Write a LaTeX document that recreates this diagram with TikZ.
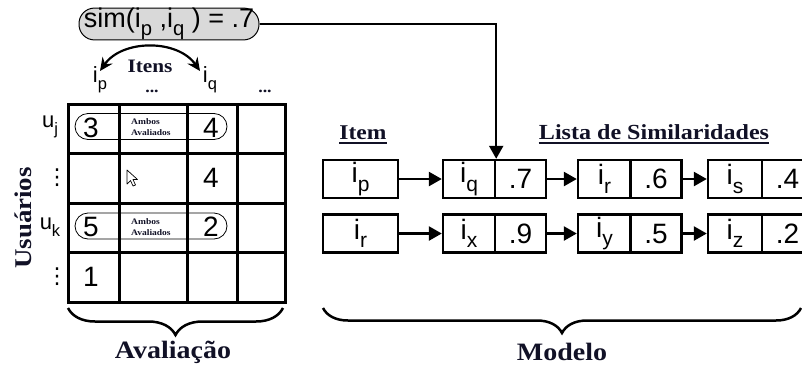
\documentclass[tikz,border=0pt]{standalone}
\usepackage{fontspec}
\usepackage{graphicx}
\setmainfont{Liberation Sans}
\newfontfamily\lblfont[FakeStretch=1.12]{Liberation Serif}
\newfontfamily\djvfont{DejaVu Sans}
\usetikzlibrary{arrows.meta,decorations.pathreplacing}
\definecolor{lblcol}{HTML}{111126}
\definecolor{pillgray}{HTML}{D9D9D9}
\newcommand\setfs[1]{\fontsize{#1}{#1}\selectfont}
\newcommand\isub[1]{\raisebox{-0.3em}{\scalebox{0.75}{#1}}}
\begin{document}
\begin{tikzpicture}[x=1pt,y=-1pt,
  lbl/.style={inner sep=0pt, text=lblcol, font=\lblfont\bfseries\setfs{#1}},
  dig/.style={inner sep=0pt, font=\setfs{28}},
  box/.style={draw, line width=2.4pt, minimum height=38pt, inner sep=0pt, font=\setfs{28}},
  pill/.style={draw, line width=0.8pt, minimum width=152pt, minimum height=26pt, rounded corners=13pt, inner sep=0pt},
  arr/.style={line width=2.5pt, -{Triangle[length=13pt,width=14pt]}},
  dbl/.style={line width=2.2pt, {Stealth[length=13pt,width=12pt]}-{Stealth[length=13pt,width=12pt]}},
  bracebig/.style={line width=2.5pt, decorate, decoration={brace, mirror, amplitude=#1}},
  gridline/.style={line width=3pt},
  vd/.style={inner sep=0pt, font=\djvfont\setfs{22}}
]
\useasboundingbox (0,0) rectangle (802,370);

% similarity bubble
\node[draw, line width=1pt, fill=pillgray, minimum width=180pt, minimum height=31pt,
      rounded corners=15.5pt, inner sep=0pt, font=\setfs{27}] (sim) at (169,24)
      {sim(i\isub{p} ,i\isub{q} ) = .7};

% header labels
\node[inner sep=0pt, font=\setfs{22}] (hp) at (100,80) {i\isub{p}};
\node[inner sep=0pt, font=\setfs{22}] (hq) at (210,80) {i\isub{q}};
\node[lbl=16, anchor=base] (hd1) at (152,92) {...};
\node[lbl=16, anchor=base] (hd2) at (265,92) {...};
\node[lbl=19] (itens) at (150,66) {Itens};
\coordinate (tp) at (100,71);
\coordinate (tq) at (200,71);
\draw[dbl] (tp) to[bend left=55] (tq);

% pills (under grid)
\node[pill] (pj) at (151,126.5) {};
\node[pill] (pk) at (151,226) {};

% grid
\draw[gridline] (68,104) rectangle (285,302);
\foreach \xx in {119,187,237} \draw[gridline] (\xx,104) -- (\xx,302);
\foreach \yy in {153.5,203,252.5} \draw[gridline] (68,\yy) -- (285,\yy);

% cell contents
\node[dig] (c11) at (91,127.5) {3};
\node[dig] (c13) at (211,127.5) {4};
\node[dig] (c23) at (211,177.5) {4};
\node[dig] (c31) at (91,227) {5};
\node[dig] (c33) at (211,227) {2};
\node[dig] (c41) at (91,276.5) {1};
\node[lbl=8.5, anchor=west, align=left, font=\lblfont\bfseries\fontsize{8.5}{11}\selectfont] (amb1) at (131,127.5) {Ambos\\Avaliados};
\node[lbl=8.5, anchor=west, align=left, font=\lblfont\bfseries\fontsize{8.5}{11}\selectfont] (amb2) at (131,227.5) {Ambos\\Avaliados};

% mouse pointer
\draw[line width=0.7pt, fill=white, line join=round]
  (127,170) -- (127,184) -- (130.5,180.5) -- (133,186) -- (135.5,185) -- (133,179.5) -- (137.5,179.5) -- cycle;

% row labels
\node[inner sep=0pt, font=\setfs{22}] (uj) at (50,127) {u\isub{j}};
\node[vd] (d1) at (57,178) {⋮};
\node[inner sep=0pt, font=\setfs{22}] (uk) at (50,227) {u\isub{k}};
\node[vd] (d2) at (57,277) {⋮};
\node[lbl=24, rotate=90] (usu) at (23,218) {Usuários};

% model
\node[lbl=21, anchor=base] (itemh) at (363,139) {Item};
\node[lbl=21.5, anchor=base] (listah) at (654,139) {Lista de Similaridades};
\draw[line width=1.5pt, lblcol] ([yshift=-4pt]itemh.base west) -- ([yshift=-4pt]itemh.base east);
\draw[line width=1.5pt, lblcol] ([yshift=-4pt]listah.base west) -- ([yshift=-4pt]listah.base east);

\node[box, minimum width=75pt] (a0) at (360.5,179) {i\isub{p}};
\node[box, minimum width=52pt] (a1) at (469,179) {i\isub{q}};
\node[box, minimum width=51pt] (a1v) at (520.5,179) {.7};
\node[box, minimum width=53pt] (a2) at (604.5,179) {i\isub{r}};
\node[box, minimum width=51pt] (a2v) at (656,179) {.6};
\node[box, minimum width=54pt] (a3) at (735,179) {i\isub{s}};
\node[box, minimum width=51pt] (a3v) at (787.5,179) {.4};

\node[box, minimum width=75pt] (b0) at (360.5,233.5) {i\isub{r}};
\node[box, minimum width=52pt] (b1) at (469,233.5) {i\isub{x}};
\node[box, minimum width=51pt] (b1v) at (520.5,233.5) {.9};
\node[box, minimum width=53pt] (b2) at (604.5,233.5) {i\isub{y}};
\node[box, minimum width=51pt] (b2v) at (656,233.5) {.5};
\node[box, minimum width=54pt] (b3) at (735,233.5) {i\isub{z}};
\node[box, minimum width=51pt] (b3v) at (787.5,233.5) {.2};

\draw[arr] (a0) -- (a1);
\draw[arr] (a1v) -- (a2);
\draw[arr] (a2v) -- (a3);
\draw[arr] (b0) -- (b1);
\draw[arr] (b1v) -- (b2);
\draw[arr] (b2v) -- (b3);

\draw[arr, line width=2.2pt] (sim.east) -| (a1.north east);

% braces
\coordinate (bl1) at (68,308);
\coordinate (bl2) at (283,308);
\coordinate (br1) at (323,308);
\coordinate (br2) at (801,308);
\draw[bracebig=27pt] (bl1) -- (bl2);
\draw[bracebig=25pt] (br1) -- (br2);
\node[lbl=25] (aval) at (173,352) {Avaliação};
\node[lbl=25] (modelo) at (562,352) {Modelo};
\end{tikzpicture}
\end{document}
